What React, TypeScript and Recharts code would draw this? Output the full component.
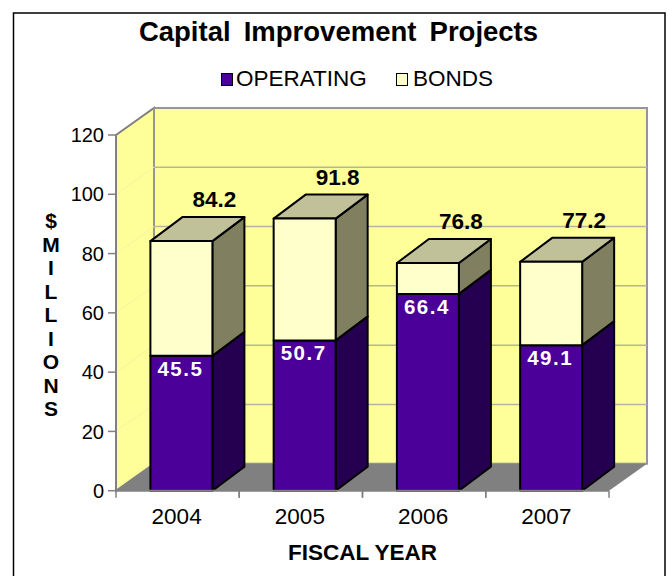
import { BarChart, Bar, XAxis, YAxis, CartesianGrid, Legend, LabelList, usePlotArea } from 'recharts';

const years = ['2004', '2005', '2006', '2007'];
const operating = [45.5, 50.7, 66.4, 49.1];
const bonds = [38.7, 41.1, 10.4, 28.1];
const totals = [84.2, 91.8, 76.8, 77.2];
const yTicks = [0, 20, 40, 60, 80, 100, 120];
const yTitle = ['$', 'M', 'I', 'L', 'L', 'I', 'O', 'N', 'S'];

const data = years.map((year, i) => ({
  year,
  operating: operating[i],
  bonds: bonds[i],
  total: totals[i],
}));

const FONT = '"Liberation Sans", Arial, sans-serif';
// depth of the floor / side walls, and of the boxes standing on it
const WALL_DX = 38;
const WALL_DY = 27;
const BOX_DX = 32;
const BOX_DY = 24;
const BOX_SHIFT = 3.4;

const Walls = () => {
  const plot = usePlotArea();
  if (!plot) return null;
  const { x, y, width, height } = plot;
  const bottom = y + height;
  const right = x + width;
  return (
    <g>
      <rect x={13.5} y={13} width={651.5} height={620} fill="#fff" stroke="#000" strokeWidth={1.5} />
      <polygon
        points={`${x},${y} ${x + WALL_DX},${y - WALL_DY} ${x + WALL_DX},${bottom - WALL_DY} ${x},${bottom}`}
        fill="#ffff99"
        stroke="#808080"
        strokeWidth={2}
      />
      <rect
        x={x + WALL_DX}
        y={y - WALL_DY}
        width={width}
        height={height}
        fill="#ffff99"
        stroke="#969696"
        strokeWidth={2}
      />
      <polygon
        points={`${x},${bottom} ${x + WALL_DX},${bottom - WALL_DY} ${right + WALL_DX},${bottom - WALL_DY} ${right},${bottom}`}
        fill="#808080"
      />
    </g>
  );
};

const GridLine = (props: any) => {
  const { x1, y1, x2, key } = props;
  if (y1 <= 136 || y1 >= 490) return <g key={key} />;
  return (
    <g key={key}>
      <line x1={x1} y1={y1} x2={x1 + WALL_DX} y2={y1 - WALL_DY} stroke="#f4f4a0" strokeWidth={1} />
      <line x1={x1 + WALL_DX} y1={y1 - WALL_DY} x2={x2 + WALL_DX} y2={y1 - WALL_DY} stroke="#b4b4a0" strokeWidth={1.5} />
    </g>
  );
};

const makeBox = (front: string, side: string, top?: string) => (props: any) => {
  const { width, height } = props;
  const x = props.x + BOX_SHIFT;
  const y = props.y;
  const r = x + width;
  const b = y + height;
  return (
    <g stroke="#000" strokeWidth={2} strokeLinejoin="round">
      <polygon points={`${r},${y} ${r + BOX_DX},${y - BOX_DY} ${r + BOX_DX},${b - BOX_DY} ${r},${b}`} fill={side} />
      {top && <polygon points={`${x},${y} ${x + BOX_DX},${y - BOX_DY} ${r + BOX_DX},${y - BOX_DY} ${r},${y}`} fill={top} />}
      <rect x={x} y={y} width={width} height={height} fill={front} />
    </g>
  );
};

const InsideLabel = (props: any) => {
  const { x, y, width, value } = props;
  return (
    <text
      x={x + BOX_SHIFT + width / 2 - 1}
      y={y + 20}
      textAnchor="middle"
      fill="#fff"
      fontFamily={FONT}
      fontWeight="bold"
      fontSize={20.5}
      letterSpacing={1.5}
    >
      {value}
    </text>
  );
};

const TotalLabel = (props: any) => {
  const { x, y, width, value } = props;
  return (
    <text
      x={x + BOX_SHIFT + width / 2 + 33}
      y={y - 34}
      textAnchor="middle"
      fill="#000"
      fontFamily={FONT}
      fontWeight="bold"
      fontSize={22.5}
    >
      {value}
    </text>
  );
};

const YearTick = (props: any) => {
  const { x, y, payload } = props;
  const half = payload.offset ?? 61.6;
  return (
    <g>
      <line x1={x - half} y1={y - 8} x2={x - half} y2={y - 1} stroke="#808080" strokeWidth={1.5} />
      <line x1={x + half} y1={y - 8} x2={x + half} y2={y - 1} stroke="#808080" strokeWidth={1.5} />
      <text x={x - 1} y={y + 25} textAnchor="middle" fill="#000" fontFamily={FONT} fontSize={22.5}>
        {payload.value}
      </text>
    </g>
  );
};

const YTitle = () => (
  <text x={51} textAnchor="middle" fill="#000" fontFamily={FONT} fontWeight="bold" fontSize={21}>
    {yTitle.map((c, i) => (
      <tspan key={i} x={51} y={228 + i * 23.5}>
        {c}
      </tspan>
    ))}
  </text>
);

const LegendBox = (props: any) => (
  <div style={{ display: 'flex', fontFamily: FONT, fontSize: 22.5, color: '#000', lineHeight: '24px' }}>
    {props.payload.map((item: any, i: number) => (
      <div key={item.value} style={{ position: 'absolute', left: i === 0 ? 221 : 396, display: 'flex', alignItems: 'center' }}>
        <span
          style={{
            display: 'inline-block',
            width: 10,
            height: 11,
            marginRight: i === 0 ? 3 : 5,
            background: item.color,
            border: '1.5px solid #000',
          }}
        />
        {item.value}
      </div>
    ))}
  </div>
);

export default function App() {
  return (
    <div style={{ position: 'absolute', left: 0, top: 0, width: 667, height: 576, background: '#fff' }}>
      <BarChart width={667} height={576} data={data} margin={{ top: 135, right: 58, bottom: 0, left: 0 }} barSize={62}>
        <Walls />
        <text
          x={338.5}
          y={41}
          textAnchor="middle"
          fill="#000"
          fontFamily={FONT}
          fontWeight="bold"
          fontSize={27.5}
          wordSpacing={5.5}
        >
          Capital Improvement Projects
        </text>
        <CartesianGrid vertical={false} horizontal={GridLine} zIndex={1} />
        <XAxis
          dataKey="year"
          height={85.3}
          tick={YearTick}
          tickLine={false}
          axisLine={{ stroke: '#808080', strokeWidth: 2 }}
          label={{
            value: 'FISCAL YEAR',
            position: 'insideBottom',
            offset: 16,
            fill: '#000',
            fontFamily: FONT,
            fontWeight: 'bold',
            fontSize: 22.5,
          }}
        />
        <YAxis
          width={116}
          domain={[0, 120]}
          ticks={yTicks}
          tickSize={8}
          tickMargin={4}
          tick={{ fill: '#000', fontFamily: FONT, fontSize: 20 }}
          tickLine={{ stroke: '#808080', strokeWidth: 1.5 }}
          axisLine={{ stroke: '#808080', strokeWidth: 2 }}
          label={{ content: YTitle }}
        />
        <Legend
          layout="horizontal"
          verticalAlign="middle"
          align="center"
          itemSorter={null}
          wrapperStyle={{ left: 0, top: 67, width: 667, height: 26 }}
          content={LegendBox}
        />
        <Bar
          dataKey="operating"
          name="OPERATING"
          stackId="a"
          fill="#4b0099"
          shape={makeBox('#4b0099', '#260050')}
          isAnimationActive={false}
        >
          <LabelList dataKey="operating" content={InsideLabel} />
        </Bar>
        <Bar
          dataKey="bonds"
          name="BONDS"
          stackId="a"
          fill="#ffffcc"
          shape={makeBox('#ffffcc', '#808060', '#c0c099')}
          isAnimationActive={false}
        >
          <LabelList dataKey="total" content={TotalLabel} />
        </Bar>
      </BarChart>
    </div>
  );
}
